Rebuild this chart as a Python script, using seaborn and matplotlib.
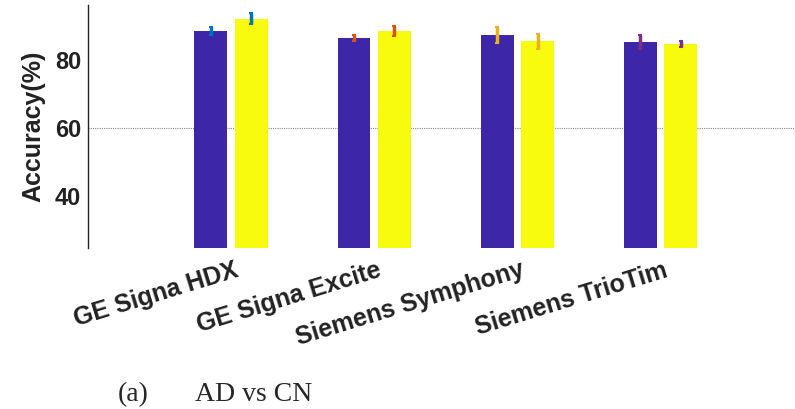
import matplotlib
matplotlib.use("Agg")
import matplotlib.pyplot as plt
import matplotlib.transforms as mtransforms
import seaborn as sns
import pandas as pd

scanners = ["GE Signa HDX", "GE Signa Excite", "Siemens Symphony", "Siemens TrioTim"]
series = ["A", "B"]
acc_a = [88.5, 86.5, 87.4, 85.3]
acc_b = [92.1, 88.5, 85.6, 84.7]
err_a = [1.2, 0.9, 2.3, 2.0]
err_b = [1.6, 1.5, 2.2, 0.9]
err_colors = ["#0072BD", "#D95319", "#EDB120", "#7E2F8E"]
yticks = [40, 60, 80]

sns.set_style("white")
plt.rcParams["font.family"] = ["Liberation Sans", "DejaVu Sans"]

df = pd.DataFrame({
    "scanner": scanners * 2,
    "series": [series[0]] * 4 + [series[1]] * 4,
    "acc": acc_a + acc_b,
})

fig = plt.figure(figsize=(7.95, 4.09), dpi=100)
ax = fig.add_axes([88 / 795, 1 - 248 / 409, 1 - 88 / 795, 243 / 409])

sns.barplot(data=df, x="scanner", y="acc", hue="series", order=scanners,
            hue_order=series, palette=["#3D26A8", "#F9FB0E"], ax=ax,
            width=0.566, gap=0.19, errorbar=None, legend=False, saturation=1,
            edgecolor="none", linewidth=0)

patches = [p for p in ax.patches if p.get_height() > 0]
patches = sorted(patches, key=lambda p: p.get_x())
errs_all = []
for i in range(4):
    errs_all.append((acc_a[i], err_a[i], err_colors[i]))
    errs_all.append((acc_b[i], err_b[i], err_colors[i]))
for p, (v, e, c) in zip(patches, errs_all):
    xc = p.get_x() + p.get_width() / 2
    ax.errorbar(xc, v, yerr=e, fmt="none", ecolor=c, elinewidth=2.5,
                capsize=1.2, capthick=1.5)

ax.set_ylim(24.7, 96.2)
ax.set_xlim(-1.0, 3.94)
ax.set_yticks(yticks)
ax.axhline(60, color="#888888", linestyle=(0, (1, 1)), linewidth=0.8, zorder=0)

for s in ["top", "right", "bottom"]:
    ax.spines[s].set_visible(False)
ax.spines["left"].set_color("#222222")
ax.spines["left"].set_linewidth(1.0)

ax.set_xlabel("")
ax.set_ylabel("Accuracy(%)", fontsize=18, fontweight="bold", labelpad=7,
              color="#222222")
ax.tick_params(axis="y", labelsize=17, length=0, pad=5, labelcolor="#222222")
for t in ax.get_yticklabels():
    t.set_fontweight("bold")
ax.tick_params(axis="x", length=0, pad=0)
ax.set_xticks(range(4))
ax.set_xticklabels(scanners, rotation=17, ha="right", va="top",
                   rotation_mode="anchor", fontsize=18, fontweight="bold",
                   color="#222222")
for t in ax.get_xticklabels():
    t.set_transform(t.get_transform() + mtransforms.ScaledTranslation(0.03, -0.10, fig.dpi_scale_trans))

serif = ["Liberation Serif", "DejaVu Serif"]
fig.text(118 / 795, 1 - 401 / 409, "(a)", fontsize=20, family=serif,
         va="baseline", ha="left")
fig.text(195 / 795, 1 - 401 / 409, "AD vs CN", fontsize=20, family=serif,
         va="baseline", ha="left")

fig.savefig("out.png", dpi=100)
